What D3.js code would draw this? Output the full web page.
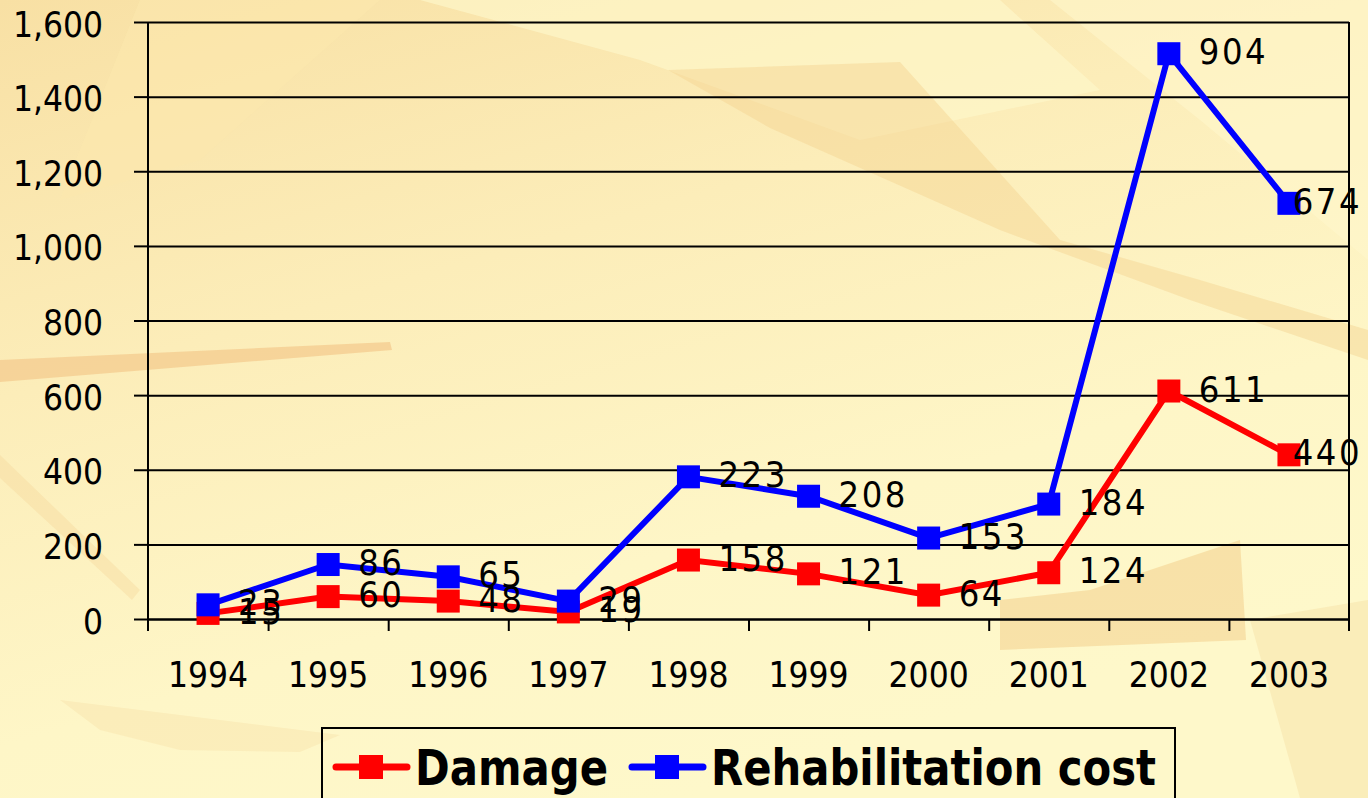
<!DOCTYPE html>
<html>
<head>
<meta charset="utf-8">
<script src="https://cdn.jsdelivr.net/npm/d3@7"></script>
<style>
  body { margin: 0; overflow: hidden; }
  svg { display: block; }
  .num { font-family: "DejaVu Sans Condensed", "DejaVu Sans", sans-serif; font-stretch: condensed; }
</style>
</head>
<body>
<script>
// data
var years = [ "1994", "1995", "1996", "1997", "1998", "1999", "2000", "2001", "2002", "2003" ];
var damage = [ 15, 60, 48, 19, 158, 121, 64, 124, 611, 440 ];
var rehab = [ 23, 86, 65, 29, 223, 208, 153, 184, 904, 674 ];
var yTicks = [ 0, 200, 400, 600, 800, 1000, 1200, 1400, 1600 ];
var seriesNames = [ "Damage", "Rehabilitation cost" ];
var seriesColors = [ "#ff0000", "#0000ff" ];

var W = 1368, H = 798;
var plotL = 148, plotR = 1349, plotT = 22, plotB = 619;

var svg = d3.select( "body" )
            .append( "svg" )
              .attr( "width", W )
              .attr( "height", H );

// parchment-ish background
var defs = svg.append( "defs" );
var grad = defs.append( "linearGradient" ).attr( "id", "bg" )
  .attr( "x1", 0 ).attr( "y1", 0 ).attr( "x2", 0.5 ).attr( "y2", 1 );
grad.append( "stop" ).attr( "offset", 0 ).attr( "stop-color", "#f8e0a4" );
grad.append( "stop" ).attr( "offset", 0.4 ).attr( "stop-color", "#fcedb9" );
grad.append( "stop" ).attr( "offset", 0.75 ).attr( "stop-color", "#fef6c7" );
grad.append( "stop" ).attr( "offset", 1 ).attr( "stop-color", "#fef8ca" );
svg.append( "rect" ).attr( "width", W ).attr( "height", H ).attr( "fill", "url(#bg)" );

var shapes = [
  { pts: [[420,0],[1000,0],[1100,90],[860,140],[640,60]], c: "#fef6c9", o: 0.7 },
  { pts: [[1050,0],[1368,0],[1368,260],[1200,120]], c: "#fff7cc", o: 0.6 },
  { pts: [[668,70],[900,62],[1060,240],[1200,280],[1368,330],[1368,360],[1190,300],[1000,230],[770,128]], c: "#f5d391", o: 0.45 },
  { pts: [[0,360],[390,342],[392,350],[0,382]], c: "#f3c98c", o: 0.7 },
  { pts: [[1000,600],[1090,590],[1240,540],[1246,640],[1000,650]], c: "#f4d596", o: 0.65 },
  { pts: [[0,455],[140,590],[132,600],[0,478]], c: "#f6d89c", o: 0.4 },
  { pts: [[60,700],[220,720],[340,735],[300,752],[180,750],[100,730]], c: "#f6dca4", o: 0.35 },
  { pts: [[1250,620],[1368,600],[1368,798],[1300,798]], c: "#f6dba0", o: 0.4 },
  { pts: [[140,0],[380,0],[200,160],[60,200]], c: "#fbe7ae", o: 0.6 }
];
svg.append( "g" ).selectAll( "polygon" )
  .data( shapes )
  .enter().append( "polygon" )
    .attr( "points", function(d){ return d.pts.join( " " ); } )
    .attr( "fill", function(d){ return d.c; } )
    .attr( "opacity", function(d){ return d.o; } );

// scales
var x = d3.scaleBand().domain( years ).range( [ plotL, plotR ] );
var xEdge = d3.scaleLinear().domain( [ 0, years.length ] ).range( [ plotL, plotR ] );
var y = d3.scaleLinear().domain( [ 0, 1600 ] ).range( [ plotB, plotT ] );

// gridlines
svg.append( "g" )
  .attr( "transform", "translate(" + plotL + ",0)" )
  .call( d3.axisLeft( y ).tickValues( yTicks ).tickSize( -( plotR - plotL ) ).tickFormat( "" ) )
  .call( function(g){
    g.select( ".domain" ).remove();
    g.selectAll( "line" ).attr( "stroke", "#000" ).attr( "stroke-width", 2 );
  });

// y axis with ticks and labels
svg.append( "g" )
  .attr( "class", "num" )
  .attr( "transform", "translate(" + plotL + ",0)" )
  .call( d3.axisLeft( y ).tickValues( yTicks ).tickSize( 14 ).tickPadding( 31 ).tickFormat( d3.format( "," ) ) )
  .call( function(g){
    g.select( ".domain" ).remove();
    g.selectAll( "line" ).attr( "stroke", "#000" ).attr( "stroke-width", 2 );
    g.selectAll( "text" ).attr( "font-size", 35 ).attr( "fill", "#000" )
      .attr( "dy", "0.4em" )
      .attr( "font-family", null );
  });

// axis lines: left and right border
svg.append( "line" ).attr( "x1", plotL ).attr( "x2", plotL ).attr( "y1", plotT ).attr( "y2", plotB + 12 )
  .attr( "stroke", "#000" ).attr( "stroke-width", 2 );
svg.append( "line" ).attr( "x1", plotR ).attr( "x2", plotR ).attr( "y1", plotT ).attr( "y2", plotB + 12 )
  .attr( "stroke", "#000" ).attr( "stroke-width", 2 );

// x tick marks between categories
svg.append( "g" )
  .attr( "transform", "translate(0," + plotB + ")" )
  .call( d3.axisBottom( xEdge ).tickValues( d3.range( 1, years.length ) ).tickSize( 12 ).tickSizeOuter( 0 ).tickFormat( "" ) )
  .call( function(g){
    g.select( ".domain" ).attr( "stroke", "#000" ).attr( "stroke-width", 2 );
    g.selectAll( "line" ).attr( "stroke", "#000" ).attr( "stroke-width", 2 );
  });

// x labels
svg.append( "g" )
  .attr( "class", "num" )
  .attr( "transform", "translate(0," + plotB + ")" )
  .call( d3.axisBottom( x ).tickSize( 0 ).tickPadding( 43 ) )
  .call( function(g){
    g.select( ".domain" ).remove();
    g.selectAll( "text" ).attr( "font-size", 35 ).attr( "fill", "#000" )
      .attr( "font-family", null );
  });

// stacked series: rehabilitation sits on top of damage
var stack = years.map( function(yr, i){
  return { year: yr, damage: damage[i], rehab: rehab[i], sum: damage[i] + rehab[i] };
});

var series = [
  { name: seriesNames[0], color: seriesColors[0], pts: stack.map( function(d){ return { year: d.year, v: d.damage, label: d.damage }; } ) },
  { name: seriesNames[1], color: seriesColors[1], pts: stack.map( function(d){ return { year: d.year, v: d.sum, label: d.rehab }; } ) }
];

var line = d3.line()
  .x( function(d){ return x( d.year ) + x.bandwidth() / 2; } )
  .y( function(d){ return y( d.v ); } );

var ms = 23;
series.forEach( function(s){
  var g = svg.append( "g" );
  g.append( "path" )
    .datum( s.pts )
    .attr( "d", line )
    .attr( "fill", "none" )
    .attr( "stroke", s.color )
    .attr( "stroke-width", 6 );
  g.selectAll( "rect" )
    .data( s.pts )
    .enter().append( "rect" )
      .attr( "x", function(d){ return x( d.year ) + x.bandwidth() / 2 - ms / 2; } )
      .attr( "y", function(d){ return y( d.v ) - ms / 2; } )
      .attr( "width", ms )
      .attr( "height", ms )
      .attr( "fill", s.color );
});

// data labels, drawn after markers
series.forEach( function(s){
  svg.append( "g" ).attr( "class", "num" )
    .selectAll( "text" )
    .data( s.pts )
    .enter().append( "text" )
      .attr( "x", function(d){ return x( d.year ) + x.bandwidth() / 2 + 30; } )
      .attr( "y", function(d){ return y( d.v ) - 2; } )
      .attr( "dominant-baseline", "central" )
      .attr( "font-size", 36 )
      .attr( "letter-spacing", 2.5 )
      .attr( "fill", "#000" )
      .text( function(d){ return d.label; } )
      .each( function(){
        var bb = this.getBBox();
        if( bb.x + bb.width > 1362 ){
          d3.select( this ).attr( "x", 1362 - bb.width );
        }
      });
});

// legend
var lg = svg.append( "g" );
lg.append( "rect" )
  .attr( "x", 322 ).attr( "y", 728 ).attr( "width", 853 ).attr( "height", 90 )
  .attr( "fill", "none" ).attr( "stroke", "#000" ).attr( "stroke-width", 2 );
var legendItems = [
  { name: seriesNames[0], color: seriesColors[0], x0: 336, w: 193 },
  { name: seriesNames[1], color: seriesColors[1], x0: 632, w: 445 }
];
legendItems.forEach( function(d){
  lg.append( "line" )
    .attr( "x1", d.x0 ).attr( "x2", d.x0 + 71 ).attr( "y1", 767 ).attr( "y2", 767 )
    .attr( "stroke", d.color ).attr( "stroke-width", 7 ).attr( "stroke-linecap", "round" );
  lg.append( "rect" )
    .attr( "x", d.x0 + 35 - 12 ).attr( "y", 767 - 12 ).attr( "width", 24 ).attr( "height", 24 )
    .attr( "fill", d.color );
  lg.append( "text" )
    .attr( "x", d.x0 + 79 ).attr( "y", 785 )
    .attr( "font-family", "'DejaVu Sans', sans-serif" )
    .attr( "font-weight", "bold" )
    .attr( "font-size", 49 )
    .attr( "textLength", d.w )
    .attr( "lengthAdjust", "spacingAndGlyphs" )
    .attr( "fill", "#000" )
    .text( d.name );
});
</script>
</body>
</html>
